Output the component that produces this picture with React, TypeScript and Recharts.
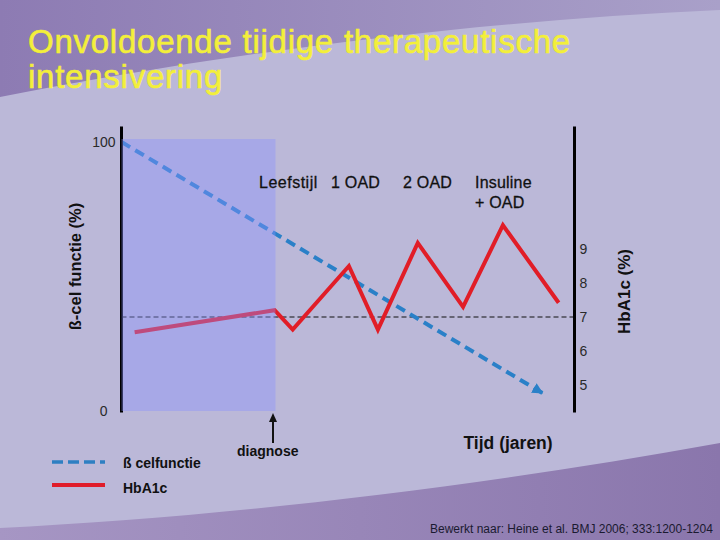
import React from 'react';
import { LineChart, Line, XAxis, YAxis, ReferenceArea, ReferenceLine } from 'recharts';

const FONT = 'Arial, "Liberation Sans", Helvetica, sans-serif';

// HbA1c (%) over time (years, unlabelled)
const hbTime = [0.29, 3.38, 3.78, 5.02, 5.66, 6.54, 7.54, 8.42, 9.65];
const hbValues = [6.55, 7.2, 6.63, 8.5, 6.63, 9.18, 7.3, 9.7, 7.42];
// beta-cell function (%)
const betaTime = [0, 9.29];
const betaValues = [100, 6.7];

const betaTicks = [0, 100];
const hbTicks = [5, 6, 7, 8, 9];
const diagnosisTime = 3.4;
const hbTarget = 7;

const hbData = hbTime.map((t, i) => ({ t, hb: hbValues[i] }));
const betaData = betaTime.map((t, i) => ({ t, beta: betaValues[i] }));

const BetaTick = (props: any) => {
  const { x, y, payload } = props;
  const shift = payload.value === 0 ? 8 : 0;
  return (
    <text x={x - shift} y={y} dy="0.355em" textAnchor="end" fill="#2a2a2a" fontSize={14} fontFamily={FONT}>
      {payload.value}
    </text>
  );
};

export default function App() {
  return (
    <div style={{ position: 'absolute', left: 0, top: 0, width: 720, height: 540, overflow: 'hidden' }}>
      <svg width={720} height={540} style={{ position: 'absolute', left: 0, top: 0 }}>
        <defs>
          <linearGradient id="topSwoosh" x1="0" y1="0" x2="1" y2="0">
            <stop offset="0" stopColor="#8d7bb3" />
            <stop offset="1" stopColor="#a9a0c9" />
          </linearGradient>
          <linearGradient id="botSwoosh" x1="0" y1="0" x2="1" y2="0">
            <stop offset="0" stopColor="#a696c4" />
            <stop offset="1" stopColor="#8a76ac" />
          </linearGradient>
          <marker id="betaArrow" viewBox="0 0 10 10" refX="9" refY="5" markerWidth="11" markerHeight="11" markerUnits="userSpaceOnUse" orient="auto">
            <path d="M0,0 L10,5 L0,10 z" fill="#2a80c8" />
          </marker>
        </defs>
        <rect x={0} y={0} width={720} height={540} fill="#bbb8d8" />
        <path d="M0,0 H720 V10 C450,22 200,58 0,97 Z" fill="url(#topSwoosh)" />
        <path d="M0,528 C200,518 450,492 720,443 V540 H0 Z" fill="url(#botSwoosh)" />
      </svg>

      <LineChart
        width={720}
        height={540}
        margin={{ top: 128, right: 105.5, bottom: 129, left: 81.5 }}
        style={{ position: 'absolute', left: 0, top: 0 }}
      >
        <XAxis
          type="number"
          dataKey="t"
          domain={[0, 10]}
          height={0}
          tick={false}
          tickLine={false}
          axisLine={{ stroke: '#000', strokeWidth: 3, strokeLinecap: 'square' }}
          allowDataOverflow
        />
        <YAxis
          yAxisId="beta"
          domain={[0, 105.2]}
          ticks={betaTicks}
          width={40}
          tickSize={4}
          tickMargin={2}
          tickLine={false}
          axisLine={{ stroke: '#000', strokeWidth: 3, strokeLinecap: 'square' }}
          tick={<BetaTick />}
          allowDataOverflow
        />
        <YAxis
          yAxisId="hb"
          orientation="right"
          domain={[4.235, 12.56]}
          ticks={hbTicks}
          width={40}
          tickSize={3}
          tickMargin={2}
          tickLine={false}
          axisLine={{ stroke: '#000', strokeWidth: 3, strokeLinecap: 'square' }}
          tick={{ fill: '#2a2a2a', fontSize: 14, fontFamily: FONT }}
          allowDataOverflow
        />
        <ReferenceLine yAxisId="hb" y={hbTarget} stroke="#111" strokeWidth={1} strokeDasharray="5 3" />
        <Line
          yAxisId="beta"
          data={betaData}
          dataKey="beta"
          stroke="#2a80c8"
          strokeWidth={4}
          strokeDasharray="10 6"
          dot={false}
          activeDot={false}
          isAnimationActive={false}
          markerEnd="url(#betaArrow)"
        />
        <Line
          yAxisId="hb"
          data={hbData}
          dataKey="hb"
          stroke="#e11d27"
          strokeWidth={4}
          strokeLinejoin="miter"
          dot={false}
          activeDot={false}
          isAnimationActive={false}
        />
        <ReferenceArea
          yAxisId="beta"
          x1={0}
          x2={diagnosisTime}
          y1={0}
          y2={101.1}
          fill="#8a90ff"
          fillOpacity={0.4}
          stroke="none"
          zIndex={1000}
        />
      </LineChart>

      <svg width={720} height={540} style={{ position: 'absolute', left: 0, top: 0, pointerEvents: 'none' }} fontFamily={FONT}>
        <text x={28} y={53} fill="#f3ef3a" stroke="#f3ef3a" strokeWidth={0.6} fontSize={33} letterSpacing={0.75}>Onvoldoende tijdige therapeutische</text>
        <text x={28} y={88} fill="#f3ef3a" stroke="#f3ef3a" strokeWidth={0.6} fontSize={33} letterSpacing={0.75}>intensivering</text>

        <g fill="#111" stroke="#111" strokeWidth={0.3} fontSize={16}>
          <text x={259} y={187.5} letterSpacing={0.5}>Leefstijl</text>
          <text x={331} y={187.5} letterSpacing={0.2}>1 OAD</text>
          <text x={403} y={187.5} letterSpacing={0.2}>2 OAD</text>
          <text x={475} y={187.5} letterSpacing={0.2}>Insuline</text>
          <text x={475} y={207.5} letterSpacing={0.2}>+ OAD</text>
        </g>

        <text transform="translate(81,266.5) rotate(-90)" textAnchor="middle" fill="#111" fontSize={16.5} fontWeight="bold">ß-cel functie (%)</text>
        <text transform="translate(630,291.5) rotate(-90)" textAnchor="middle" fill="#111" fontSize={17} fontWeight="bold">HbA1c (%)</text>

        <line x1={273} y1={420} x2={273} y2={443} stroke="#111" strokeWidth={2} />
        <polygon points="273,413 269,422 277,422" fill="#111" />
        <text x={237} y={456} fill="#111" fontSize={14} fontWeight="bold">diagnose</text>

        <text x={463.5} y={448.5} fill="#111" fontSize={17.5} fontWeight="bold">Tijd (jaren)</text>

        <line x1={52} y1={462} x2={105} y2={462} stroke="#2e7fc2" strokeWidth={3.5} strokeDasharray="11 5" />
        <text x={123} y={468} fill="#111" fontSize={14} fontWeight="bold">ß celfunctie</text>
        <line x1={52} y1={485} x2={105} y2={485} stroke="#e01c2a" strokeWidth={4} />
        <text x={123} y={492.5} fill="#111" fontSize={14} fontWeight="bold">HbA1c</text>

        <text x={430} y={533} fill="#1a1a30" fontSize={12}>Bewerkt naar: Heine et al. BMJ 2006; 333:1200-1204</text>
      </svg>
    </div>
  );
}
